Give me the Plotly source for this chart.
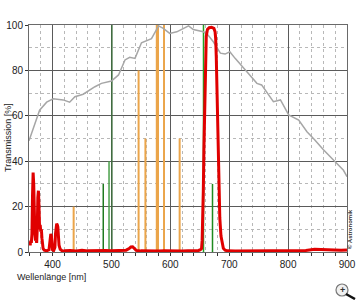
import plotly.graph_objects as go

# ---- data ----
sensor_nm = [360, 378, 390, 401, 418, 429, 438, 452, 472, 483, 500, 512, 523, 531, 540, 551, 568, 580,
             588, 599, 611, 618, 631, 639, 656, 664, 673, 685, 693, 701, 710, 730, 747, 755, 764, 775,
             787, 801, 818, 832, 845, 860, 877, 894, 900]
sensor_pct = [49, 62.5, 66, 67.5, 67, 66, 68.4, 69.5, 72.8, 74.3, 75.3, 78, 84.6, 85.8, 85.3, 92.2, 94, 99.6,
              98.5, 96.3, 97, 98, 99.6, 98, 97, 95.6, 92.6, 87.6, 87.2, 88.2, 85.3, 79.4, 74.3, 73.6, 70, 66.2,
              67, 60.4, 58.1, 53, 49.5, 45, 40.5, 36, 33.2]

filter_nm = [360, 361, 362, 363, 364, 365, 366, 367, 368, 369, 370, 371, 372, 373, 374, 375, 376, 377, 378,
             379, 380, 381, 382, 383, 384, 386, 390, 394, 395, 396, 397, 398, 399, 400, 402, 404, 405, 406,
             407, 408, 409, 410, 411, 413, 416, 420, 430, 440, 450, 460, 470, 480, 490, 500, 510, 520, 525,
             530, 533, 536, 539, 542, 550, 560, 570, 580, 590, 600, 610, 620, 630, 640, 648, 651, 653, 654,
             655, 656, 657, 658, 659, 660, 661, 663, 666, 670, 674, 676, 677, 678, 679, 680, 681, 682, 684,
             686, 688, 690, 693, 697, 710, 730, 750, 770, 790, 810, 830, 845, 860, 875, 890, 900]
filter_pct = [3, 4, 3, 5, 4, 8, 25, 35, 30, 15, 8, 5, 6, 4, 10, 24, 27, 20, 10,
              12, 9, 10, 6, 3, 1.5, 0.8, 0.5, 1, 3, 6, 8, 7, 3, 1, 0.7, 2, 8, 11,
              12.5, 12, 11, 7, 3, 1.2, 0.6, 0.5, 0.7, 0.4, 0.8, 0.5, 0.6, 0.4, 0.7, 0.5, 0.6, 0.5, 0.8,
              1.5, 2.2, 2.3, 1.5, 0.7, 0.5, 0.4, 0.5, 0.4, 0.5, 0.4, 0.5, 0.4, 0.5, 0.5, 0.7, 1, 1.5, 5,
              13, 27, 45, 63, 79, 90, 95, 98, 98.8, 99, 98.5, 97, 94, 86, 72, 55, 40, 28, 15,
              7, 3.5, 1.6, 0.8, 0.5, 0.4, 0.5, 0.5, 0.4, 0.5, 0.6, 0.7, 1.2, 1.0, 1.1, 0.8, 0.9]

green_nm = [486.1, 495.9, 500.7, 656.3, 671.6]
green_pct = [30, 40, 100, 100, 30]
green_col = ["#1f7a1f", "#4aa04a", "#3e6e3e", "#22a022", "#1f8a1f"]

orange_nm = [435.8, 546.1, 557.7, 577.0, 579.1, 589.3, 615.8]
orange_pct = [20, 80, 50, 100, 100, 100, 50]

x_ticks = [400, 500, 600, 700, 800, 900]
y_ticks = [0, 20, 40, 60, 80, 100]

fig = go.Figure()

# orange emission lines
for nm, h in zip(orange_nm, orange_pct):
    fig.add_trace(go.Scatter(x=[nm, nm], y=[0, h], mode="lines",
                             line=dict(color="#eba54a", width=2), hoverinfo="skip", showlegend=False))
# green emission lines
for nm, h, c in zip(green_nm, green_pct, green_col):
    fig.add_trace(go.Scatter(x=[nm, nm], y=[0, h], mode="lines",
                             line=dict(color=c, width=1.5), hoverinfo="skip", showlegend=False))

# sensor curve
fig.add_trace(go.Scatter(x=sensor_nm, y=sensor_pct, mode="lines",
                         line=dict(color="#a6a6a6", width=1.5), showlegend=False))
# filter curve
fig.add_trace(go.Scatter(x=filter_nm, y=filter_pct, mode="lines",
                         line=dict(color="#e00000", width=3), showlegend=False))

grid_major = "#5a5a5a"
grid_minor = "#b8b8b8"
FONT = "Liberation Sans, Arial, sans-serif"
tickfont = dict(family=FONT, size=10, color="#222222")

fig.update_xaxes(range=[360, 900], tickvals=x_ticks, ticktext=[str(v) for v in x_ticks],
                 automargin=False,
                 showgrid=True, gridcolor=grid_major, gridwidth=1,
                 ticks="outside", ticklen=3, tickcolor="#333333",
                 showline=True, linecolor="#6a6a6a", mirror=True, zeroline=False,
                 tickfont=tickfont,
                 minor=dict(dtick=20, tick0=0, showgrid=True, gridcolor=grid_minor, griddash="dot",
                            ticks="outside", ticklen=3, tickcolor="#333333"))
fig.update_yaxes(range=[0, 100], tickvals=y_ticks, ticktext=[str(v) for v in y_ticks],
                 automargin=False,
                 showgrid=True, gridcolor=grid_major, gridwidth=1,
                 ticks="outside", ticklen=3, tickcolor="#333333",
                 showline=True, linecolor="#6a6a6a", mirror=True, zeroline=False,
                 tickfont=tickfont,
                 minor=dict(dtick=10, tick0=0, showgrid=True, gridcolor=grid_minor, griddash="dot"))

W, H = 360, 300
L, R, T, B = 29, 13, 25, 48
pw, ph = W - L - R, H - T - B


def px(xp):
    return (xp - L) / pw


def py(yp):
    return (H - B - yp) / ph


fig.update_layout(
    width=W, height=H,
    margin=dict(l=L, r=R, t=T, b=B, pad=0, autoexpand=False),
    paper_bgcolor="white", plot_bgcolor="white",
    annotations=[
        dict(text="Wellenlänge [nm]", xref="paper", yref="paper", x=px(15), y=py(277),
             xanchor="left", yanchor="middle", showarrow=False,
             font=dict(family=FONT, size=9, color="#222222")),
        dict(text="Transmission [%]", xref="paper", yref="paper", x=px(8), y=py(138),
             xanchor="center", yanchor="middle", showarrow=False, textangle=-90,
             font=dict(family=FONT, size=9, color="#222222")),
        dict(text="<b>© Astronomik</b>", xref="paper", yref="paper", x=px(350), y=py(229),
             xanchor="center", yanchor="middle", showarrow=False, textangle=-90,
             font=dict(family=FONT, size=6, color="#333333")),
        dict(text="<b>+</b>", xref="paper", yref="paper", x=px(342), y=py(290),
             xanchor="center", yanchor="middle", showarrow=False,
             font=dict(family=FONT, size=9, color="#333333")),
    ],
    shapes=[
        dict(type="circle", xref="paper", yref="paper", x0=px(336), x1=px(348), y0=py(296), y1=py(284),
             line=dict(color="#777777", width=1.2), fillcolor="rgba(230,230,230,0.6)"),
        dict(type="line", xref="paper", yref="paper", x0=px(346), x1=px(355), y0=py(294), y1=py(299),
             line=dict(color="#111111", width=2.5)),
    ],
)

fig.write_html("out.html")
